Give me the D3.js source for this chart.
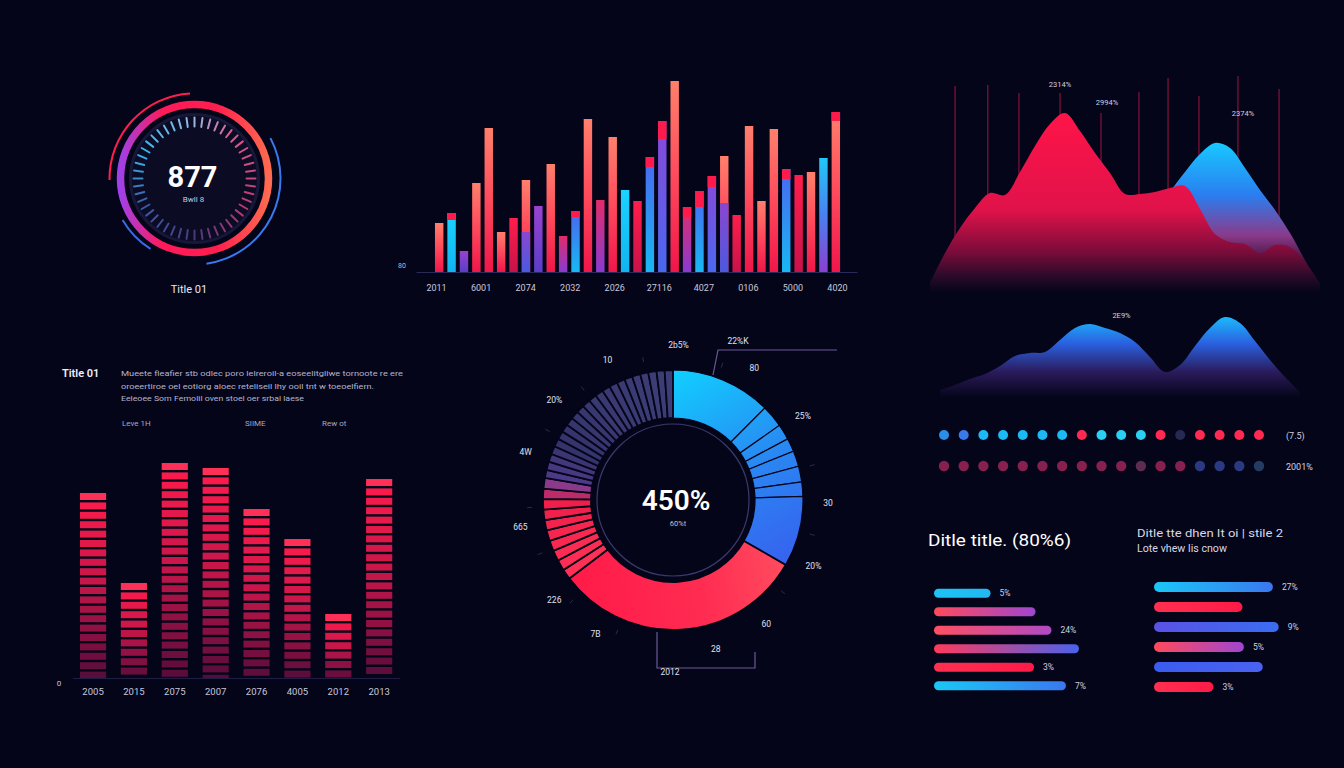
<!DOCTYPE html>
<html>
<head>
<meta charset="utf-8">
<script src="https://cdn.jsdelivr.net/npm/d3@7"></script>
<style>
  html, body { margin: 0; padding: 0; background: #05051a; }
  svg { display: block; font-family: Roboto, "Noto Sans", sans-serif; }
</style>
</head>
<body>
<script>
// ---------- data ----------
var gaugeValue = 877;
var gaugeMax = 1000;
var gaugeUnit = "Bwll 8";
var gaugeTitle = "Title 01";

var topBarValues = [49, 59, 21, 89, 144, 40, 54, 92, 66, 108, 36, 61, 153, 72, 135, 82, 71, 115, 151, 191, 65, 81, 96, 116, 57, 146, 71, 143, 103, 97, 100, 114, 160];
var topBarCaps = [0, 7, 0, 0, 0, 0, 0, 0, 0, 0, 0, 6, 0, 0, 0, 0, 0, 10, 18, 0, 10, 16, 11, 0, 0, 0, 0, 0, 10, 0, 0, 0, 9];
var topBarLower = [0, 0, 0, 0, 0, 0, 0, 40, 0, 0, 0, 0, 0, 0, 0, 0, 0, 0, 0, 0, 0, 0, 0, 69, 0, 0, 0, 0, 0, 0, 0, 0, 0];
var topBarSeries = ["warm", "cyan", "purple", "warm", "warm", "warm", "red", "warm", "purple", "warm",
    "magenta", "blue", "warm", "magenta", "warm", "cyan", "red", "blue", "violet", "warm",
    "magenta", "blue", "violet", "warm", "red", "warm", "warm", "warm", "blue", "red",
    "warm", "cyanViolet", "warm"];
var topTicks = ["2011", "6001", "2074", "2032", "2026", "27116", "4027", "0106", "5000", "4020"];
var topYTick = "80";

var redAreaValues = [7, 37, 62, 82, 97, 95, 118, 144, 166, 177, 159, 137, 117, 96, 96, 98, 102, 104, 81, 56, 48, 46, 37, 45, 43, 28, 7];
var blueAreaValues = [2, 8, 12, 18, 22, 24, 31, 36, 38, 44, 52, 55, 58, 62, 66, 72, 98, 118, 136, 147, 142, 122, 100, 80, 57, 30, 5];
var areaGridIdx = [1.67, 3.85, 5.93, 8.67, 11.4, 13.93, 15.87, 17.93, 20.53, 23.27];
var areaGridTop = [204, 205, 197, 197, 177, 198, 212, 194, 214, 201];
var areaLabels = ["2314%", "2994%", "2374%"];
var areaLabelIdx = [8.67, 11.8, 20.87];
var areaLabelVal = [203, 185, 174];

var midAreaValues = [5, 10, 16, 21, 29, 39, 42, 43, 55, 67, 71, 67, 62, 53, 38, 23, 30, 49, 67, 78, 72, 54, 35, 18, 3];
var midAreaLabel = "2E9%";

var dotRow1 = ["blueRing", "blue", "cyan", "cyan", "cyan", "cyan", "cyan", "red", "aqua", "aqua", "aqua", "red", "navy", "red", "red", "red", "red"];
var dotRow2 = ["wine", "wine", "wine", "wine", "wine", "wine", "wine", "wine", "wine", "wine", "mauve", "wine", "wine", "indigo", "indigo", "indigo", "slate"];
var dotLabels = ["(7.5)", "2001%"];

var leftTitle = "Title 01";
var leftParagraph = [
    "Mueete fleafier stb odlec poro lelreroil-a eoseelitgliwe tornoote re ere",
    "oroeertiroe oel eotiorg aloec reteliseil lhy ooil tnt w toeoelfiern.",
    "Eeleoee Som Femolil oven stoel oer srbal laese"
];
var leftRowLabels = ["Leve 1H", "SIIME", "Rew ot"];

var leftBarLabels = ["2005", "2015", "2075", "2007", "2076", "4005", "2012", "2013"];
var leftBarValues = [185, 95, 215, 210, 169, 139, 64, 199];

var donutBlue = [45, 10, 7, 6, 7, 7, 6.5, 31.5];
var donutRed = [113];
var donutRedStripes = [4.6, 4.8, 4.7, 4.7, 4.8, 4.6, 4.7, 4.7, 4.6, 4.8];
var donutNavyStripes = [3.6, 3.7, 3.6, 3.7, 3.6, 3.7, 3.6, 3.7, 3.6, 3.6, 3.7, 3.6, 3.7, 3.6, 3.7, 3.6, 3.6, 3.7, 3.6, 3.7, 3.6, 3.7];
var donutCenterValue = "450%";
var donutCenterSub = "60%t";
var donutLabels = ["2b5%", "80", "25%", "30", "20%", "60", "28", "7B", "226", "665", "4W", "20%", "10"];
var donutCallouts = ["22%K", "2012"];

var hbarTitle = "Ditle title. (80%6)";
var hbarSubtitle = ["Ditle tte dhen It oi | stile 2", "Lote vhew lis cnow"];
var hbarLeftValues = [39, 70, 81, 100, 69, 91];
var hbarLeftLabels = ["5%", "", "24%", "", "3%", "7%"];
var hbarLeftSeries = ["cyan", "redPurple", "redMagenta", "redBlue", "red", "cyanBlue"];
var hbarRightValues = [82, 61, 86, 62, 75, 41];
var hbarRightLabels = ["27%", "", "9%", "5%", "", "3%"];
var hbarRightSeries = ["cyanBlue", "red", "indigoBlue", "redPurple", "blue", "red"];

// ---------- colours ----------
var BG = "#05051a";
var topBarColors = {
    warm: ["#f0164a", "#ff4a5c", "#ff806c"],
    red: ["#c8124a", "#ff1e4c"],
    cyan: ["#12b4f0", "#1ad4ff"],
    purple: ["#5a3ec8", "#9a42d0"],
    magenta: ["#8a3ad0", "#e02c6a"],
    blue: ["#18b8f4", "#4a66f0"],
    violet: ["#4a68f0", "#8a48d8"],
    cyanViolet: ["#8a40d0", "#4a80f0", "#20c8f8"],
    lower: ["#4a5ae0", "#8a46d0"]
};
var dotColors = {
    blueRing: "#2a8ee8", blue: "#3a7ae8", cyan: "#1cbaf4", aqua: "#2ad0f2", red: "#ff2a52",
    navy: "#262a52", wine: "#86204e", mauve: "#5e2c50", indigo: "#2a3a82", slate: "#253c62"
};
var hbarColors = {
    cyan: ["#1cc4f4", "#22b8f2"],
    redPurple: ["#ff4a5c", "#a046d0"],
    redMagenta: ["#ff5062", "#b04ac4"],
    redBlue: ["#ff3a5c", "#4a62ec"],
    red: ["#ff3050", "#ff1a48"],
    cyanBlue: ["#1ac8f6", "#3a78f0"],
    indigoBlue: ["#5a52e4", "#3a6cf2"],
    blue: ["#3a5cf0", "#4a62f0"]
};

var svg = d3.select("body").append("svg")
    .attr("width", 1344)
    .attr("height", 768);
var defs = svg.append("defs");

svg.append("rect").attr("width", 1344).attr("height", 768).attr("fill", BG);

function gradient(id, colors, x1, y1, x2, y2, user) {
    var g = defs.append("linearGradient").attr("id", id)
        .attr("x1", x1).attr("y1", y1).attr("x2", x2).attr("y2", y2);
    if (user) g.attr("gradientUnits", "userSpaceOnUse");
    colors.forEach(function (c, i) {
        var off = Array.isArray(c) ? c[0] : i / (colors.length - 1);
        var col = Array.isArray(c) ? c[1] : c;
        g.append("stop").attr("offset", off).attr("stop-color", col);
    });
    return "url(#" + id + ")";
}

// ---------- gauge ----------
var gcx = 194.5, gcy = 178.5;
var gauge = svg.append("g").attr("transform", `translate(${gcx},${gcy})`);
var ringFill = gradient("gaugeRing", [[0, "#a040e8"], [0.28, "#ff1a5a"], [0.65, "#ff1e4e"], [1, "#ff6a50"]], 0, 0.5, 1, 0.5);

gauge.append("circle").attr("r", 64).attr("fill", "#0b0b24").attr("stroke", "#17173a").attr("stroke-width", 3);
gauge.append("circle").attr("r", 74).attr("fill", "none").attr("stroke", ringFill).attr("stroke-width", 7.5);

var thinArc = d3.arc();
var deg = Math.PI / 180;
gauge.append("path").attr("fill", "#ff1e50")
    .attr("d", thinArc({innerRadius: 84, outerRadius: 86, startAngle: -91 * deg, endAngle: -3 * deg}));
gauge.append("path").attr("fill", "#3a7af0")
    .attr("d", thinArc({innerRadius: 85, outerRadius: 87, startAngle: 62 * deg, endAngle: 172 * deg}));
gauge.append("path").attr("fill", "#3a6ae0")
    .attr("d", thinArc({innerRadius: 82, outerRadius: 84, startAngle: 212 * deg, endAngle: 240 * deg}));

var tickAngle = d3.scaleLinear().domain([0, 48]).range([0, 360]);
var tickColor = d3.scaleLinear()
    .domain([0, 40, 120, 180, 240, 300, 360])
    .range(["#9ab8e0", "#e05a90", "#b83a70", "#4a3a7a", "#3a5aa8", "#38b8f0", "#9ab8e0"]);
gauge.selectAll(".gtick")
    .data(d3.range(48))
    .enter()
    .append("line")
    .attr("class", "gtick")
    .attr("x1", d => 52 * Math.sin(tickAngle(d) * deg))
    .attr("y1", d => -52 * Math.cos(tickAngle(d) * deg))
    .attr("x2", d => 61 * Math.sin(tickAngle(d) * deg))
    .attr("y2", d => -61 * Math.cos(tickAngle(d) * deg))
    .attr("stroke", d => tickColor(tickAngle(d)))
    .attr("stroke-width", 2)
    .attr("stroke-linecap", "round");

gauge.append("text").attr("x", -2).attr("y", 8).attr("text-anchor", "middle")
    .attr("fill", "#fff").attr("font-size", 29).attr("font-weight", 700)
    .text(gaugeValue);
gauge.append("text").attr("x", -1).attr("y", 23).attr("text-anchor", "middle")
    .attr("fill", "#c8c8da").attr("font-size", 8).text(gaugeUnit);
svg.append("text").attr("x", 189).attr("y", 293).attr("text-anchor", "middle")
    .attr("fill", "#e8e8f0").attr("font-size", 11).text(gaugeTitle);

// ---------- top bar chart ----------
var topX = d3.scaleBand().domain(d3.range(topBarValues.length)).range([431, 844]).padding(0.32);
var topY = d3.scaleLinear().domain([0, 200]).range([272, 72]);
Object.keys(topBarColors).forEach(function (k) {
    gradient("tb-" + k, topBarColors[k], 0, 1, 0, 0);
});
var topBars = svg.append("g");
topBars.selectAll(".tbar")
    .data(topBarValues)
    .enter()
    .append("rect")
    .attr("x", (d, i) => topX(i))
    .attr("y", d => topY(d))
    .attr("width", topX.bandwidth())
    .attr("height", d => topY(0) - topY(d))
    .attr("fill", (d, i) => "url(#tb-" + topBarSeries[i] + ")");
topBars.selectAll(".tlow")
    .data(topBarLower.map((v, i) => ({v: v, i: i})).filter(d => d.v > 0))
    .enter()
    .append("rect")
    .attr("x", d => topX(d.i))
    .attr("y", d => topY(d.v))
    .attr("width", topX.bandwidth())
    .attr("height", d => topY(0) - topY(d.v))
    .attr("fill", "url(#tb-lower)");
topBars.selectAll(".tcap")
    .data(topBarCaps)
    .enter()
    .append("rect")
    .attr("x", (d, i) => topX(i))
    .attr("y", (d, i) => topY(topBarValues[i]))
    .attr("width", topX.bandwidth())
    .attr("height", (d, i) => topY(topBarValues[i] - d) - topY(topBarValues[i]))
    .attr("fill", "#ff1a4c");

var topLabelX = d3.scalePoint().domain(topTicks).range([416, 857]).padding(0.45);
var topAxis = svg.append("g")
    .attr("transform", "translate(0,272)")
    .call(d3.axisBottom(topLabelX).tickSize(0).tickPadding(13));
topAxis.select(".domain").attr("stroke", "#2a2a58");
topAxis.selectAll("text").attr("fill", "#c8c8da").attr("font-size", 9).attr("font-family", "Roboto");
svg.append("text").attr("x", 402).attr("y", 268).attr("text-anchor", "middle")
    .attr("fill", "#b8b8cc").attr("font-size", 7).text(topYTick);

// ---------- top right area chart ----------
var areaX = d3.scaleLinear().domain([0, redAreaValues.length - 1]).range([930, 1320]);
var areaY = d3.scaleLinear().domain([0, 200]).range([290, 90]);
svg.append("g").selectAll("line")
    .data(areaGridIdx)
    .enter()
    .append("line")
    .attr("x1", d => areaX(d)).attr("x2", d => areaX(d))
    .attr("y1", (d, i) => areaY(areaGridTop[i])).attr("y2", areaY(5))
    .attr("stroke", "#7a1238").attr("stroke-width", 1.3);
svg.append("g").selectAll("text")
    .data(areaLabels)
    .enter()
    .append("text")
    .attr("x", (d, i) => areaX(areaLabelIdx[i]))
    .attr("y", (d, i) => areaY(areaLabelVal[i]))
    .attr("text-anchor", "middle")
    .attr("fill", "#d0d0e0").attr("font-size", 7.5)
    .text(d => d);

var blueFill = gradient("blueArea", [[0, "#18c8ff"], [0.35, "#2a7ef0"], [0.62, "#8a3a8a"], [0.82, "#360c30"], [1, BG]], 0, 143, 0, 292, true);
var redFill = gradient("redArea", [[0, "#ff1448"], [0.55, "#e0124a"], [0.78, "#7a0c3a"], [0.92, "#260a28"], [1, BG]], 0, 110, 0, 292, true);
var area = d3.area()
    .x((d, i) => areaX(i))
    .y0(areaY(-2))
    .y1(d => areaY(d))
    .curve(d3.curveCatmullRom.alpha(0.5));
svg.append("path").datum(blueAreaValues).attr("d", area).attr("fill", blueFill);
svg.append("path").datum(redAreaValues).attr("d", area).attr("fill", redFill);

// ---------- middle right area ----------
var midX = d3.scaleLinear().domain([0, midAreaValues.length - 1]).range([940, 1300]);
var midY = d3.scaleLinear().domain([0, 80]).range([395, 315]);
var midFill = gradient("midArea", [[0, "#1ac0ff"], [0.35, "#2a60e0"], [0.7, "#2a1a5a"], [1, BG]], 0, 315, 0, 397, true);
svg.append("path")
    .datum(midAreaValues)
    .attr("d", d3.area().x((d, i) => midX(i)).y0(midY(-2)).y1(d => midY(d)).curve(d3.curveCatmullRom.alpha(0.5)))
    .attr("fill", midFill);
svg.append("text").attr("x", midX(12.1)).attr("y", midY(77)).attr("text-anchor", "middle")
    .attr("fill", "#d0d0e0").attr("font-size", 7.5).text(midAreaLabel);

// ---------- dot rows ----------
var dotX = d3.scalePoint().domain(d3.range(dotRow1.length)).range([944, 1259]);
[[dotRow1, 435], [dotRow2, 466]].forEach(function (row, r) {
    svg.append("g").selectAll("circle")
        .data(row[0])
        .enter()
        .append("circle")
        .attr("cx", (d, i) => dotX(i))
        .attr("cy", row[1])
        .attr("r", r === 0 ? 5 : 5.2)
        .attr("fill", d => dotColors[d]);
    svg.append("text").attr("x", 1286).attr("y", row[1] + 3.5)
        .attr("fill", "#d0d0e0").attr("font-size", 9).text(dotLabels[r]);
});

// ---------- left text block ----------
svg.append("text").attr("x", 62).attr("y", 377).attr("fill", "#f0f0f6")
    .attr("font-size", 11).attr("font-weight", 600).text(leftTitle);
var paraWidths = [282, 253, 183];
svg.append("g").selectAll("text")
    .data(leftParagraph)
    .enter()
    .append("text")
    .attr("x", 121)
    .attr("y", (d, i) => 376 + i * 12.5)
    .attr("fill", "#b4b4cc").attr("font-size", 8)
    .attr("textLength", (d, i) => paraWidths[i])
    .attr("lengthAdjust", "spacingAndGlyphs")
    .text(d => d);
var rowX = [122, 245, 322];
svg.append("g").selectAll("text")
    .data(leftRowLabels)
    .enter()
    .append("text")
    .attr("x", (d, i) => rowX[i]).attr("y", 426)
    .attr("fill", "#a8a8c2").attr("font-size", 8)
    .text(d => d);

// ---------- left segmented bars ----------
var leftX = d3.scaleBand().domain(leftBarLabels).range([72.6, 399.6]).paddingInner(0.36).paddingOuter(0.18);
var leftY = d3.scaleLinear().domain([0, 230]).range([678, 448]);
var segColor = d3.scaleLinear().domain([0, 0.45, 1]).range(["#ff1c4c", "#c8164a", "#520c3a"]);
leftBarValues.forEach(function (v, i) {
    var top = leftY(v), h = leftY(0) - top;
    svg.append("g").selectAll("rect")
        .data(d3.range(0, h - 2, 9.4))
        .enter()
        .append("rect")
        .attr("x", leftX(leftBarLabels[i]))
        .attr("y", d => top + d)
        .attr("width", leftX.bandwidth())
        .attr("height", d => Math.min(7, h - d))
        .attr("fill", (d, k) => k === 0 ? "#ff3058" : segColor(d / h));
});
var leftAxis = svg.append("g")
    .attr("transform", "translate(0,678)")
    .call(d3.axisBottom(leftX).tickSize(0).tickPadding(10));
leftAxis.select(".domain").attr("stroke", "#1e1e42");
leftAxis.selectAll("text").attr("fill", "#c8c8da").attr("font-size", 9.5).attr("font-family", "Roboto");
svg.append("text").attr("x", 59).attr("y", 686).attr("text-anchor", "middle")
    .attr("fill", "#c8c8da").attr("font-size", 8).text("0");

// ---------- donut ----------
var dcx = 673, dcy = 500;
var donut = svg.append("g").attr("transform", `translate(${dcx},${dcy})`);
var slices = [];
donutBlue.forEach(v => slices.push({value: v, kind: "blue"}));
donutRed.forEach(v => slices.push({value: v, kind: "red"}));
donutRedStripes.forEach((v, i) => slices.push({value: v, kind: "redStripe", k: i}));
donutNavyStripes.forEach((v, i) => slices.push({value: v, kind: "navy", k: i}));

var dBlue = gradient("donutBlue", [[0, "#10d0ff"], [0.5, "#2a86f2"], [1, "#3a58ee"]], 0, -130, 120, 90, true);
var dRed = gradient("donutRed", [[0, "#ff1846"], [0.6, "#ff2c52"], [1, "#ff5060"]], -120, 80, 120, 40, true);
var redStripeColor = d3.scaleLinear().domain([0, 7, 9]).range(["#ff3056", "#f01e4a", "#8a3a8a"]);
var navyColor = d3.scaleLinear().domain([0, 4, 21]).range(["#4c3a88", "#35336c", "#3e3e76"]);

var pie = d3.pie().sort(null).value(d => d.value);
var donutArc = d3.arc().innerRadius(82).outerRadius(130);
donut.selectAll("path")
    .data(pie(slices))
    .enter()
    .append("path")
    .attr("d", donutArc)
    .attr("fill", function (d) {
        if (d.data.kind === "blue") return dBlue;
        if (d.data.kind === "red") return dRed;
        if (d.data.kind === "redStripe") return redStripeColor(d.data.k);
        return navyColor(d.data.k);
    })
    .attr("stroke", BG)
    .attr("stroke-width", d => d.data.kind === "blue" ? 1.2 : 1.8);
donut.append("circle").attr("r", 76).attr("fill", "#05051a").attr("stroke", "#3a3a6c").attr("stroke-width", 1.2);
donut.append("text").attr("x", 3).attr("y", 10).attr("text-anchor", "middle")
    .attr("fill", "#fff").attr("font-size", 28).attr("font-weight", 600).text(donutCenterValue);
donut.append("text").attr("x", 5).attr("y", 26).attr("text-anchor", "middle")
    .attr("fill", "#c0c0d4").attr("font-size", 7.5).text(donutCenterSub);

var donutLabelAngles = [2, 31.6, 57, 91, 115, 143, 164, 210, 230, 260, 288, 310, 335];
donut.selectAll(".dlab")
    .data(donutLabels)
    .enter()
    .append("text")
    .attr("x", (d, i) => 155 * Math.sin(donutLabelAngles[i] * deg))
    .attr("y", (d, i) => -155 * Math.cos(donutLabelAngles[i] * deg) + 3)
    .attr("text-anchor", "middle")
    .attr("fill", "#e0e0ea").attr("font-size", 8.5)
    .text(d => d);
var faintTicks = [348, 321, 299, 267, 248, 225, 203, 76, 104, 130, 20];
donut.selectAll(".dtick")
    .data(faintTicks)
    .enter()
    .append("line")
    .attr("x1", d => 141 * Math.sin(d * deg)).attr("y1", d => -141 * Math.cos(d * deg))
    .attr("x2", d => 146 * Math.sin(d * deg)).attr("y2", d => -146 * Math.cos(d * deg))
    .attr("stroke", "#2a2a4c").attr("stroke-width", 1);

svg.append("path").attr("d", "M713,375 L718,350 L837,350")
    .attr("fill", "none").attr("stroke", "#6a5a9a").attr("stroke-width", 1.2);
svg.append("text").attr("x", 738).attr("y", 344).attr("text-anchor", "middle")
    .attr("fill", "#e0e0ea").attr("font-size", 8.5).text(donutCallouts[0]);
svg.append("path").attr("d", "M657,632 L657,668 L755,668 L755,652")
    .attr("fill", "none").attr("stroke", "#6a5a9a").attr("stroke-width", 1.2);
svg.append("text").attr("x", 670).attr("y", 675).attr("text-anchor", "middle")
    .attr("fill", "#e0e0ea").attr("font-size", 8.5).text(donutCallouts[1]);

// ---------- horizontal bars ----------
svg.append("text").attr("x", 928).attr("y", 546).attr("fill", "#fff")
    .attr("font-size", 17).attr("textLength", 143).attr("lengthAdjust", "spacingAndGlyphs")
    .text(hbarTitle);
svg.append("g").selectAll("text")
    .data(hbarSubtitle)
    .enter()
    .append("text")
    .attr("x", 1137).attr("y", (d, i) => 537 + i * 15)
    .attr("fill", "#d8d8e6").attr("font-size", 10.5)
    .attr("textLength", (d, i) => i === 0 ? 146 : 90).attr("lengthAdjust", "spacingAndGlyphs")
    .text(d => d);

Object.keys(hbarColors).forEach(function (k) {
    gradient("hb-" + k, hbarColors[k], 0, 0, 1, 0);
});
var hbarX = d3.scaleLinear().domain([0, 100]).range([0, 145]);
function hbars(values, labels, series, x0, y0, y1, bh) {
    var y = d3.scaleBand().domain(d3.range(values.length)).range([y0, y1]);
    var g = svg.append("g");
    g.selectAll("rect")
        .data(values)
        .enter()
        .append("rect")
        .attr("x", x0)
        .attr("y", (d, i) => y(i) + (y.bandwidth() - bh) / 2)
        .attr("width", d => hbarX(d))
        .attr("height", bh)
        .attr("rx", bh / 2)
        .attr("fill", (d, i) => "url(#hb-" + series[i] + ")");
    g.selectAll("text")
        .data(values)
        .enter()
        .append("text")
        .attr("x", d => x0 + hbarX(d) + 9)
        .attr("y", (d, i) => y(i) + y.bandwidth() / 2 + 3)
        .attr("fill", "#d0d0e0").attr("font-size", 8.5)
        .text((d, i) => labels[i]);
}
hbars(hbarLeftValues, hbarLeftLabels, hbarLeftSeries, 934, 584, 695, 9);
hbars(hbarRightValues, hbarRightLabels, hbarRightSeries, 1154, 577, 697, 10);
</script>
</body>
</html>
